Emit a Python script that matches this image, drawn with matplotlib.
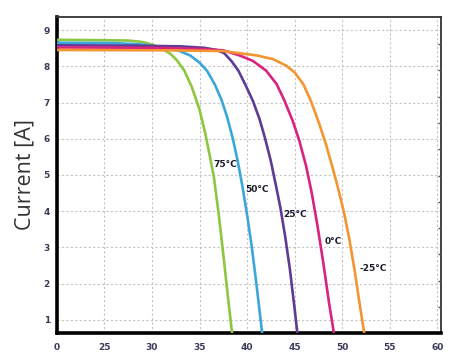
import matplotlib
matplotlib.use("Agg")
import matplotlib.pyplot as plt

# voltage axis starts at 20 V but the first tick is labelled "0" (broken axis)
x_ticks = [20, 25, 30, 35, 40, 45, 50, 55, 60]
x_tick_labels = ["0", "25", "30", "35", "40", "45", "50", "55", "60"]
y_ticks = [1, 2, 3, 4, 5, 6, 7, 8, 9]

temps = ["75°C", "50°C", "25°C", "0°C", "-25°C"]
colors = ["#8dc63f", "#3ba7d9", "#5f3b95", "#d8237f", "#f39530"]

v_75 = [20, 25, 27.5, 29, 30, 31, 32, 32.7, 33.4, 34.2, 35.0, 35.6, 36.1, 36.5, 37.0, 37.5, 38.0, 38.5]
i_75 = [8.73, 8.72, 8.71, 8.67, 8.6, 8.5, 8.33, 8.14, 7.88, 7.42, 6.8, 6.15, 5.5, 4.95, 3.95, 2.8, 1.6, 0.45]

v_50 = [20, 26, 29, 31, 32.8, 34.0, 35.0, 35.8, 36.6, 37.3, 37.9, 38.5, 39.0, 39.5, 40.0, 40.5, 41.0, 41.6]
i_50 = [8.65, 8.64, 8.6, 8.53, 8.43, 8.3, 8.1, 7.87, 7.5, 7.08, 6.6, 6.0, 5.4, 4.7, 3.9, 3.0, 1.95, 0.6]

v_25 = [20, 28, 33, 35.5, 36.8, 37.6, 38.4, 39.1, 39.8, 40.6, 41.3, 41.9, 42.5, 43.0, 43.5, 44.0, 44.5, 45.0, 45.3]
i_25 = [8.58, 8.57, 8.55, 8.51, 8.45, 8.36, 8.13, 7.87, 7.5, 7.05, 6.55, 6.0, 5.38, 4.75, 4.1, 3.31, 2.4, 1.3, 0.6]

v_0 = [20, 30, 35, 37.5, 39.2, 40.6, 42.0, 43.1, 43.9, 44.8, 45.5, 46.2, 46.8, 47.4, 48.0, 48.6, 49.15]
i_0 = [8.52, 8.51, 8.48, 8.44, 8.3, 8.15, 7.88, 7.51, 7.07, 6.49, 5.94, 5.25, 4.5, 3.6, 2.6, 1.5, 0.6]

v_m25 = [20, 32, 37.5, 41.0, 42.7, 44.1, 45.0, 45.9, 46.7, 47.6, 48.3, 49.0, 49.6, 50.2, 50.7, 51.3, 51.8, 52.4]
i_m25 = [8.45, 8.44, 8.42, 8.3, 8.2, 8.02, 7.83, 7.51, 7.05, 6.4, 5.84, 5.19, 4.6, 3.95, 3.3, 2.38, 1.5, 0.5]

# where the temperature labels sit (volts, amps)
label_v = [36.5, 39.8, 43.8, 48.1, 51.8]
label_i = [5.28, 4.61, 3.92, 3.17, 2.43]

volts = [v_75, v_50, v_25, v_0, v_m25]
amps = [i_75, i_50, i_25, i_0, i_m25]

fig = plt.figure(figsize=(4.59, 3.61), dpi=100)
ax = fig.add_axes([0.124, 0.0776, 0.837, 0.8753])

for v, i, c in zip(volts, amps, colors):
    ax.plot(v, i, color=c, linewidth=1.9, solid_joinstyle="round", zorder=3)

for t, lv, li in zip(temps, label_v, label_i):
    ax.text(lv, li, t, fontsize=6.5, color="#1a1a2a", fontweight="bold",
            ha="left", va="center", zorder=4)

ax.set_xlim(20, 60.4)
ax.set_ylim(0.64, 9.36)
ax.set_xticks(x_ticks)
ax.set_xticklabels(x_tick_labels)
ax.set_yticks(y_ticks)
ax.tick_params(length=0, labelsize=6.5, labelcolor="#3a3a5a")
ax.tick_params(axis="x", pad=7)
ax.tick_params(axis="y", pad=5)
for lbl in ax.get_xticklabels() + ax.get_yticklabels():
    lbl.set_fontweight("bold")

ax.grid(True, color="#c4c4c4", linestyle=(0, (2, 2)), linewidth=0.8)
ax.set_axisbelow(True)

ax.spines["left"].set_linewidth(2.6)
ax.spines["bottom"].set_linewidth(2.6)
ax.spines["top"].set_linewidth(1.3)
ax.spines["right"].set_linewidth(1.3)
ax.spines["top"].set_color("#333333")
ax.spines["right"].set_color("#333333")

# little inward ticks on the right spine
ax2 = ax.twinx()
ax2.set_ylim(10.99, -1.03)
ax2.set_yticks(range(0, 11))
ax2.set_yticklabels([])
ax2.tick_params(axis="y", direction="in", length=2.5, width=1, color="#555555")
for s in ax2.spines.values():
    s.set_visible(False)

ax.set_ylabel("Current [A]", fontsize=15.5, family="Open Sans", color="#333333", labelpad=6)

plt.savefig("out.png", dpi=100)
